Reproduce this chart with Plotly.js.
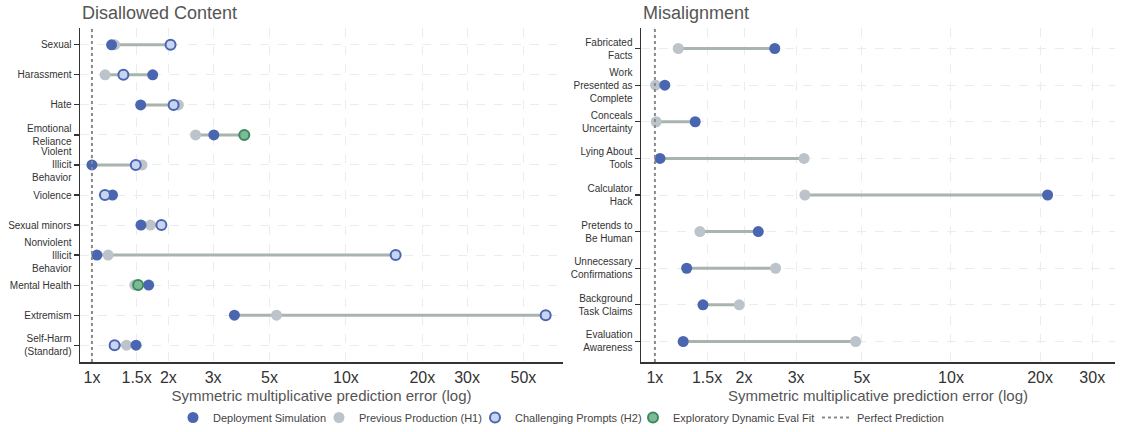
<!DOCTYPE html>
<html><head><meta charset="utf-8">
<script src="https://cdn.plot.ly/plotly-3.0.1.min.js"></script>
<style>html,body{margin:0;padding:0;background:#fff}#chart{width:1121px;height:432px}</style>
</head><body><div id="chart"></div>
<script>
// ---- Disallowed Content ----
const dcCategories = ["Sexual","Harassment","Hate","Emotional<br>Reliance","Violent<br>Illicit<br>Behavior","Violence","Sexual minors","Nonviolent<br>Illicit<br>Behavior","Mental Health","Extremism","Self-Harm<br>(Standard)"];
const dcDeployment  = [1.195, 1.735, 1.556, 3.02, 1.0, 1.205, 1.56, 1.046, 1.673, 3.64, 1.492];
const dcPrevious    = [1.23, 1.127, 2.19, 2.56, 1.575, null, 1.70, 1.158, 1.475, 5.33, 1.368];
const dcChallenging = [2.04, 1.33, 2.097, null, 1.488, 1.125, 1.877, 15.7, null, 61.2, 1.228];
const dcExploratory = [null, null, null, 3.98, null, null, null, null, 1.52, null, null];

// ---- Misalignment ----
const maCategories = ["Fabricated<br>Facts","Work<br>Presented as<br>Complete","Conceals<br>Uncertainty","Lying About<br>Tools","Calculator<br>Hack","Pretends to<br>Be Human","Unnecessary<br>Confirmations","Background<br>Task Claims","Evaluation<br>Awareness"];
const maDeployment = [2.54, 1.08, 1.368, 1.04, 21.2, 2.234, 1.28, 1.453, 1.246];
const maPrevious   = [1.199, 1.005, 1.01, 3.19, 3.21, 1.419, 2.557, 1.927, 4.765];

// ---- Axis ticks ----
const dcTickVals = [1, 1.5, 2, 3, 5, 10, 20, 30, 50];
const maTickVals = [1, 1.5, 2, 3, 5, 10, 20, 30];
const tickText = v => v + "x";

const C_DEP = "#4a66b1", C_PREV = "#bdc3cb", C_CH_FILL = "#c9d4f0", C_EX_FILL = "#7fba98", C_EX_LINE = "#3b8a5d", C_CONN = "#a9b4af";
const FONT = "Liberation Sans, Arial, Helvetica, sans-serif";

function connectors(cats, seriesList, xa, ya) {
  const xs = [], ys = [];
  cats.forEach((c, i) => {
    const vals = seriesList.map(s => s[i]).filter(v => v != null);
    xs.push(Math.min(...vals), Math.max(...vals), null);
    ys.push(c, c, null);
  });
  return {type: "scatter", mode: "lines", x: xs, y: ys, xaxis: xa, yaxis: ya,
    line: {color: C_CONN, width: 3}, showlegend: false, hoverinfo: "skip"};
}
const mk = (cats, vals, xa, ya, name, marker, showlegend, legend) => ({
  type: "scatter", mode: "markers", x: vals, y: cats, xaxis: xa, yaxis: ya,
  name, marker, showlegend, legendgroup: name, legend: legend || "legend", cliponaxis: false
});
const mDep = {color: C_DEP, size: 11, line: {width: 0}};
const mPrev = {color: C_PREV, size: 11, line: {width: 0}};
const mCh = {color: C_CH_FILL, size: 10, line: {color: C_DEP, width: 2}};
const mEx = {color: C_EX_FILL, size: 10, line: {color: C_EX_LINE, width: 2}};

const data = [
  connectors(dcCategories, [dcDeployment, dcPrevious, dcChallenging, dcExploratory], "x", "y"),
  connectors(maCategories, [maDeployment, maPrevious], "x2", "y2"),
  {type: "scatter", mode: "lines", x: [1, 1], y: [0, 1], xaxis: "x", yaxis: "y3", name: "Perfect Prediction",
   line: {color: "#8a8a8a", width: 2, dash: "dot"}, showlegend: true, legend: "legend5", legendgroup: "pp", hoverinfo: "skip"},
  {type: "scatter", mode: "lines", x: [1, 1], y: [0, 1], xaxis: "x2", yaxis: "y4", name: "Perfect Prediction",
   line: {color: "#8a8a8a", width: 2, dash: "dot"}, showlegend: false, legendgroup: "pp", hoverinfo: "skip"},
  mk(dcCategories, dcPrevious, "x", "y", "Previous Production (H1)", mPrev, true, "legend2"),
  mk(maCategories, maPrevious, "x2", "y2", "Previous Production (H1)", mPrev, false),
  mk(dcCategories, dcDeployment, "x", "y", "Deployment Simulation", mDep, true, "legend"),
  mk(maCategories, maDeployment, "x2", "y2", "Deployment Simulation", mDep, false),
  mk(dcCategories, dcChallenging, "x", "y", "Challenging Prompts (H2)", mCh, true, "legend3"),
  mk(dcCategories, dcExploratory, "x", "y", "Exploratory Dynamic Eval Fit", mEx, true, "legend4")
];

const W = 1121;
const xCommon = {
  type: "log", showline: true, linecolor: "#333", linewidth: 1.5, ticks: "", zeroline: false,
  showgrid: true, gridcolor: "#e9eded", gridwidth: 1, griddash: "dash",
  tickfont: {size: 16, color: "#333", family: FONT},
  title: {text: "Symmetric multiplicative prediction error (log)", font: {size: 15, color: "#555", family: FONT}, standoff: 6}
};
const yCommon = {
  type: "category", autorange: false, showline: true, linecolor: "#333", linewidth: 1.5,
  ticks: "outside", ticklen: 5, tickcolor: "#333", tickwidth: 1.2,
  showgrid: true, gridcolor: "#e9eded", gridwidth: 1, griddash: "dash",
  tickfont: {size: 10, color: "#333", family: FONT}, zeroline: false
};
// legend boxes: text start targets (px) -> legend x (item text sits ~40px into the box)
const legendTextStarts = [213, 359, 515, 673, 857];
const legendBox = px => ({orientation: "h", x: (px - 40) / W, xanchor: "left", y: -0.167, yanchor: "middle",
  font: {size: 11, color: "#444", family: FONT}, itemwidth: 30, bgcolor: "rgba(0,0,0,0)"});

const layout = {
  width: 1121, height: 432, paper_bgcolor: "#fff", plot_bgcolor: "#fff",
  margin: {l: 0, r: 0, t: 28, b: 68},
  font: {family: FONT, color: "#333"},
  xaxis: Object.assign({}, xCommon, {domain: [80 / W, 563 / W], anchor: "y",
    range: [-0.047, 1.855], tickvals: dcTickVals, ticktext: dcTickVals.map(tickText)}),
  yaxis: Object.assign({}, yCommon, {domain: [0, 1], anchor: "x",
    categoryorder: "array", categoryarray: dcCategories, range: [dcCategories.length - 0.44, -0.56]}),
  xaxis2: Object.assign({}, xCommon, {domain: [641 / W, 1115 / W], anchor: "y2",
    range: [-0.047, 1.554], tickvals: maTickVals, ticktext: maTickVals.map(tickText)}),
  yaxis2: Object.assign({}, yCommon, {domain: [0, 1], anchor: "x2",
    categoryorder: "array", categoryarray: maCategories, range: [maCategories.length - 0.44, -0.56]}),
  yaxis3: {overlaying: "y", range: [0, 1], visible: false, anchor: "x", fixedrange: true},
  yaxis4: {overlaying: "y2", range: [0, 1], visible: false, anchor: "x2", fixedrange: true},
  legend: legendBox(legendTextStarts[0]),
  legend2: legendBox(legendTextStarts[1]),
  legend3: legendBox(legendTextStarts[2]),
  legend4: legendBox(legendTextStarts[3]),
  legend5: legendBox(legendTextStarts[4]),
  annotations: [
    {text: "Disallowed Content", xref: "paper", yref: "paper", x: 80 / W, y: 1.045, xanchor: "left", yanchor: "middle",
     showarrow: false, font: {size: 18, color: "#555", family: FONT}},
    {text: "Misalignment", xref: "paper", yref: "paper", x: 641 / W, y: 1.045, xanchor: "left", yanchor: "middle",
     showarrow: false, font: {size: 18, color: "#555", family: FONT}}
  ],
  showlegend: true
};

Plotly.newPlot("chart", data, layout, {displayModeBar: false, staticPlot: true});
</script></body></html>
